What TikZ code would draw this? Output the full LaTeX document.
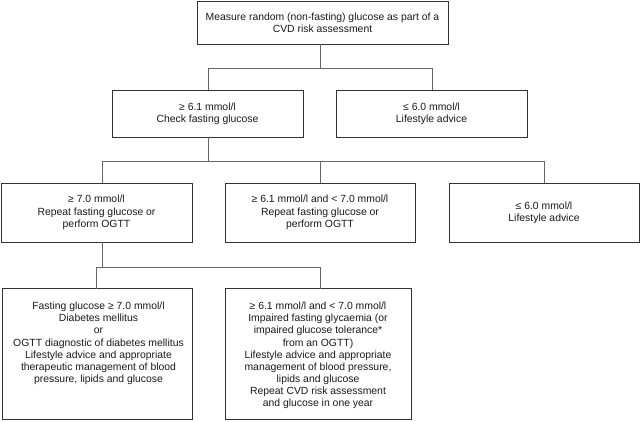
\documentclass[tikz,border=0pt]{standalone}
\usepackage{fontspec}
\setmainfont{Liberation Sans}
\begin{document}
\begin{tikzpicture}[x=1pt,y=-1pt,
  box/.style={draw=black!80,line width=0.9pt,rectangle,inner sep=0pt,outer sep=0pt,
    align=center,font=\fontsize{10.4}{12.2}\selectfont,text=black!90},
  txt/.style={inner sep=0pt,align=center,font=\fontsize{10.4}{12.1}\selectfont,text=black!90},
  conn/.style={draw=black!60,line width=0.9pt}]
\useasboundingbox (0,0) rectangle (640,421);
% top
\node[box,minimum width=251pt,minimum height=43pt] (T) at (322.5,22.5)
  {Measure random (non-fasting) glucose as part of a\\CVD risk assessment};
% row 2
\node[box,minimum width=191pt,minimum height=47pt] (A) at (207.5,113.5)
  {≥ 6.1 mmol/l\\Check fasting glucose};
\node[box,minimum width=191pt,minimum height=47pt] (B) at (431.5,113.5)
  {≤ 6.0 mmol/l\\Lifestyle advice};
% row 3
\node[box,minimum width=191pt,minimum height=59pt] (C) at (96.5,212.5)
  {≥ 7.0 mmol/l\\Repeat fasting glucose or\\perform OGTT};
\node[box,minimum width=190pt,minimum height=59pt] (D) at (320,212.5)
  {≥ 6.1 mmol/l and < 7.0 mmol/l\\Repeat fasting glucose or\\perform OGTT};
\node[box,minimum width=190pt,minimum height=59pt] (E) at (544,212.5)
  {≤ 6.0 mmol/l\\Lifestyle advice};
% row 4
\node[box,minimum width=190pt,minimum height=131pt] (F) at (97,354) {};
\node[box,minimum width=186pt,minimum height=131pt] (G) at (318,354) {};
\node[txt,anchor=north] (Ft) at (98.5,302)
  {Fasting glucose ≥ 7.0 mmol/l\\Diabetes mellitus\\or\\OGTT diagnostic of diabetes mellitus\\
   Lifestyle advice and appropriate\\therapeutic management of blood\\pressure, lipids and glucose};
\node[txt,anchor=north] (Gt) at (318,302)
  {≥ 6.1 mmol/l and < 7.0 mmol/l\\Impaired fasting glycaemia (or\\impaired glucose tolerance*\\from an OGTT)\\
   Lifestyle advice and appropriate\\management of blood pressure,\\lipids and glucose\\Repeat CVD risk assessment\\and glucose in one year};
% connectors
\coordinate (h1) at (320,68);
\coordinate (h2) at (320,161);
\coordinate (h3) at (320,267);
\draw[conn] ([xshift=-2.5pt]T.south) -- ([xshift=-2.5pt]T.south |- h1);
\draw[conn] ([xshift=0.5pt]A.north) |- ([xshift=0.5pt]B.north |- h1) -- ([xshift=0.5pt]B.north);
\draw[conn] ([xshift=0.5pt]A.south) -- ([xshift=0.5pt]A.south |- h2);
\draw[conn] ([xshift=5.5pt]C.north) |- (E.north |- h2) -- (E.north);
\draw[conn] (D.north) -- (D.north |- h2);
\draw[conn] ([xshift=5.5pt]C.south) -- ([xshift=5.5pt]C.south |- h3);
\draw[conn] ([xshift=-1pt]F.north) |- ([xshift=2pt]G.north |- h3) -- ([xshift=2pt]G.north);
\end{tikzpicture}
\end{document}
